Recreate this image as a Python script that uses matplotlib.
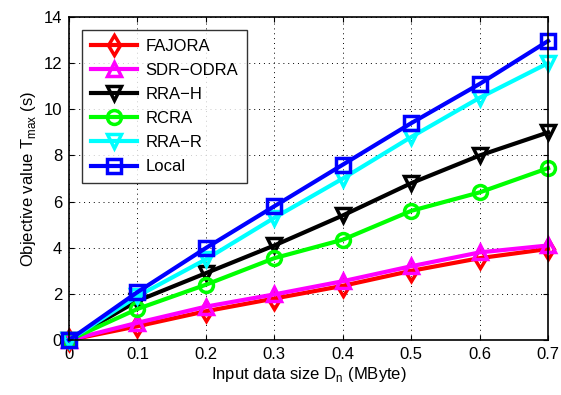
import matplotlib
matplotlib.use('Agg')
import matplotlib.pyplot as plt

plt.rcParams['font.family'] = ['Liberation Sans', 'DejaVu Sans']

data_size = [0, 0.1, 0.2, 0.3, 0.4, 0.5, 0.6, 0.7]
fajora = [0, 0.6, 1.25, 1.8, 2.35, 3.0, 3.55, 3.95]
sdr_odra = [0, 0.75, 1.45, 1.98, 2.55, 3.2, 3.8, 4.1]
rra_h = [0, 1.7, 2.9, 4.1, 5.4, 6.8, 8.0, 9.0]
rcra = [0, 1.35, 2.4, 3.55, 4.35, 5.6, 6.4, 7.45]
rra_r = [0, 1.9, 3.5, 5.3, 7.0, 8.8, 10.5, 12.0]
local = [0, 2.08, 3.99, 5.8, 7.6, 9.4, 11.1, 12.96]

series = [
    ('FAJORA', fajora, 'red', 'd'),
    ('SDR\u2212ODRA', sdr_odra, 'magenta', '^'),
    ('RRA\u2212H', rra_h, 'black', 'v'),
    ('RCRA', rcra, '#00ff00', 'o'),
    ('RRA\u2212R', rra_r, 'cyan', 'v'),
    ('Local', local, 'blue', 's'),
]

fig = plt.figure(figsize=(5.61, 3.95), dpi=100)
ax = fig.add_axes([0.123, 0.139, 0.854, 0.818])

for name, vals, color, marker in series:
    ax.plot(data_size, vals, color=color, marker=marker, lw=3, ms=10,
            mfc='none', mew=2.5, label=name, clip_on=False)

ax.set_xlim(0, 0.7)
ax.set_ylim(0, 14)
ax.set_xticks(data_size)
ax.set_xticklabels(['0', '0.1', '0.2', '0.3', '0.4', '0.5', '0.6', '0.7'])
ax.set_yticks(range(0, 15, 2))
ax.tick_params(direction='in', labelsize=12, top=True, right=True, pad=5)
for sp in ax.spines.values():
    sp.set_linewidth(1.2)
ax.grid(True, linestyle=(0, (1, 4)), color='black', lw=0.7)
ax.set_xlabel('Input data size D$_\\mathregular{n}$ (MByte)', fontsize=12, labelpad=2)
ax.set_ylabel('Objective value T$_\\mathregular{max}$ (s)', fontsize=12, labelpad=4)

leg = ax.legend(loc='upper left', fontsize=12, frameon=True, fancybox=False,
                edgecolor='black', handlelength=2.8, borderaxespad=0.8,
                labelspacing=0.55, handletextpad=0.5, borderpad=0.5)
leg.get_frame().set_linewidth(1)

fig.savefig('out.png', dpi=100)
